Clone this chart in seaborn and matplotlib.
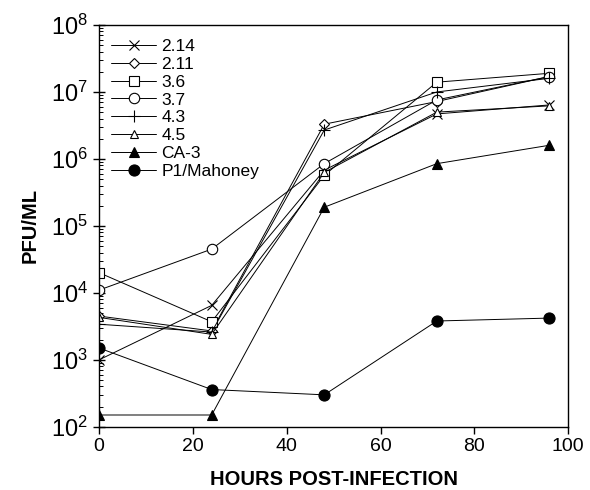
import matplotlib
matplotlib.use("Agg")
import matplotlib.pyplot as plt
import matplotlib.ticker as mticker
import seaborn as sns
import pandas as pd
import numpy as np

hours = [0, 24, 48, 72, 96]
s_214 = [1.0e3, 6.5e3, 6.8e5, 4.7e6, 6.4e6]
s_211 = [4.5e3, 2.7e3, 3.3e6, 7.2e6, 1.7e7]
s_36 = [2.0e4, 3.7e3, 5.7e5, 1.4e7, 1.9e7]
s_37 = [1.1e4, 4.5e4, 8.5e5, 7.6e6, 1.7e7]
s_43 = [3.4e3, 2.6e3, 2.7e6, 1.0e7, 1.6e7]
s_45 = [4.3e3, 2.4e3, 6.3e5, 5.0e6, 6.2e6]
s_ca3 = [1.5e2, 1.5e2, 1.9e5, 8.5e5, 1.6e6]
s_p1 = [1.5e3, 3.6e2, 3.0e2, 3.8e3, 4.2e3]

labels = ["2.14", "2.11", "3.6", "3.7", "4.3", "4.5", "CA-3", "P1/Mahoney"]
series = [s_214, s_211, s_36, s_37, s_43, s_45, s_ca3, s_p1]
x_ticks = [0, 20, 40, 60, 80, 100]
y_exps = [2, 3, 4, 5, 6, 7, 8]

sns.set_theme(style="white")
plt.rcParams["font.family"] = ["Liberation Sans", "DejaVu Sans"]
plt.rcParams["mathtext.fontset"] = "custom"
plt.rcParams["mathtext.rm"] = "Liberation Sans"
plt.rcParams["mathtext.it"] = "Liberation Sans"
plt.rcParams["text.color"] = "black"
plt.rcParams["axes.labelcolor"] = "black"
plt.rcParams["xtick.color"] = "black"
plt.rcParams["ytick.color"] = "black"

styles = [
    dict(marker="x", ms=7, mfc="none", mew=0.8),
    dict(marker="D", ms=5, mfc="white", mew=0.8),
    dict(marker="s", ms=7, mfc="white", mew=0.8),
    dict(marker="o", ms=7.5, mfc="white", mew=0.8),
    dict(marker="+", ms=9, mfc="none", mew=0.8),
    dict(marker="^", ms=6, mfc="white", mew=0.8),
    dict(marker="^", ms=7, mfc="black", mew=0.8),
    dict(marker="o", ms=8, mfc="black", mew=0.8),
]

fig = plt.figure(figsize=(5.9, 4.9), dpi=100)
ax = fig.add_axes([0.168, 0.129, 0.795, 0.82])

for lab, vals, st in zip(labels, series, styles):
    df = pd.DataFrame({"hours": hours, "pfu": vals})
    sns.lineplot(data=df, x="hours", y="pfu", ax=ax, color="black", lw=0.7,
                 label=lab, mec="black", **st)

ax.set_yscale("log")
ax.set_xlim(0, 100)
ax.set_ylim(1e2, 1e8)
ax.set_xticks(x_ticks)
ax.set_xticklabels([str(v) for v in x_ticks])
ax.set_yticks([10.0 ** e for e in y_exps])
ax.set_yticklabels([r"$\mathregular{10^{%d}}$" % e for e in y_exps])
minor = [m * 10.0 ** e for e in y_exps[:-1] for m in range(2, 10)]
ax.set_yticks(minor, minor=True)
ax.yaxis.set_minor_formatter(mticker.NullFormatter())

ax.tick_params(axis="y", which="major", direction="inout", length=8, width=1, labelsize=17, left=True, pad=4)
ax.tick_params(axis="y", which="minor", direction="in", length=3, width=0.7, left=True)
ax.tick_params(axis="x", which="major", direction="out", length=5, width=1, labelsize=14, bottom=True, pad=3)
for s in ax.spines.values():
    s.set_color("black")
    s.set_linewidth(1.0)

ax.set_xlabel("HOURS POST-INFECTION", fontsize=14.5, fontweight="bold", labelpad=11)
ax.set_ylabel("PFU/ML", fontsize=14.5, fontweight="bold", labelpad=8)

leg = ax.legend(loc="upper left", frameon=False, fontsize=12.5, handlelength=2.6,
                handletextpad=0.3, labelspacing=0.15, borderaxespad=0.3,
                bbox_to_anchor=(0.0, 0.995))

fig.savefig("out.png", dpi=100)
